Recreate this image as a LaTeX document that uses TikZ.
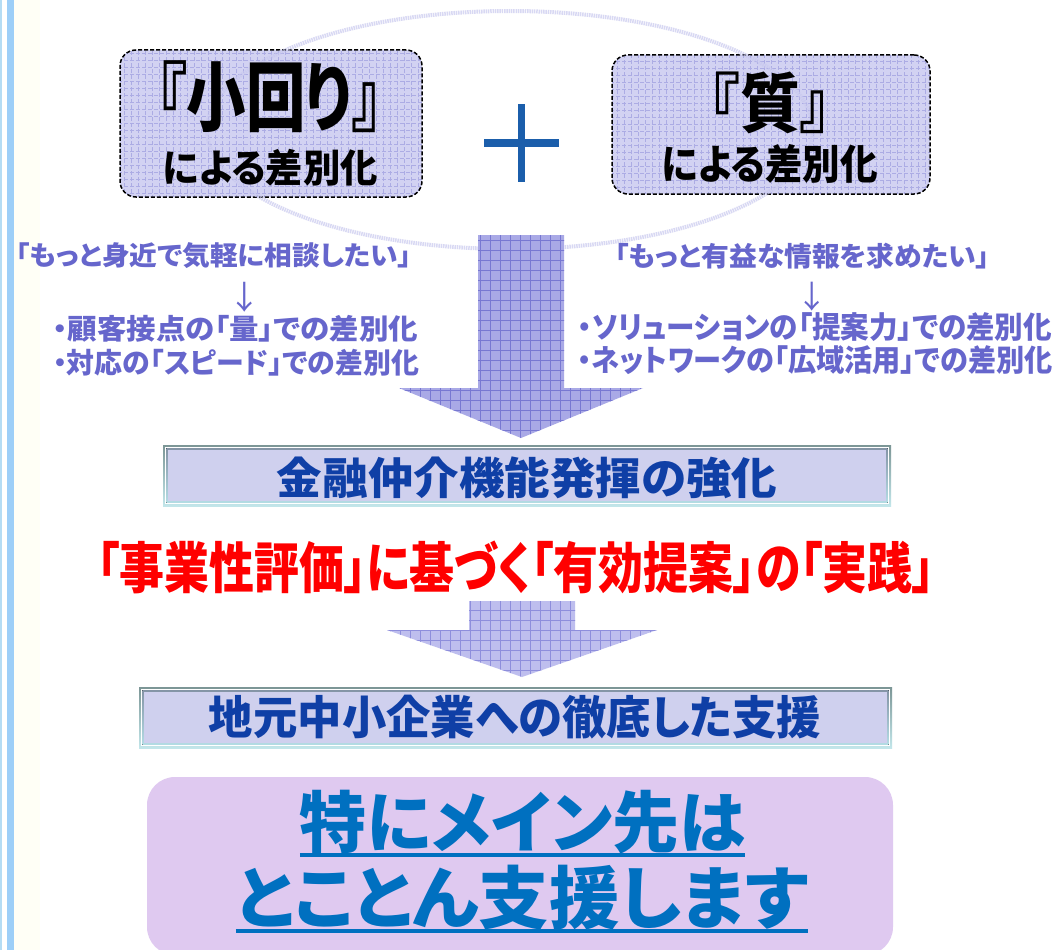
\documentclass[tikz,border=0pt]{standalone}
\usepackage{fontspec}
\usepackage{graphicx}
\newfontfamily\jp[RawFeature=+palt]{Noto Sans CJK JP}
\newfontfamily\jpk[RawFeature=+palt]{Noto Sans CJK JP Black}
\newfontfamily\jpn{Noto Sans CJK JP}
\newcommand\fitbox[3]{\resizebox*{#1pt}{#2pt}{#3}}
\definecolor{bandblue}{HTML}{9DCFF8}
\definecolor{bandlight}{HTML}{B4DCF4}
\definecolor{cream}{HTML}{FFFFF6}
\definecolor{boxlav}{HTML}{D2D2F2}
\definecolor{gridlav}{HTML}{ACACE4}
\definecolor{arrowA}{HTML}{A9A9E6}
\definecolor{arrowAg}{HTML}{7878D2}
\definecolor{arrowB}{HTML}{BEBEEE}
\definecolor{arrowBg}{HTML}{8E8EDC}
\definecolor{ringcol}{HTML}{C8C8EE}
\definecolor{pluscol}{HTML}{1B5EAB}
\definecolor{lavtext}{HTML}{6666CC}
\definecolor{navytext}{HTML}{0F3FA6}
\definecolor{framA}{HTML}{7C9696}
\definecolor{framB}{HTML}{C2E6EA}
\definecolor{framC}{HTML}{8494A6}
\definecolor{framD}{HTML}{B4DCE4}
\definecolor{fillC}{HTML}{CFD0EE}
\definecolor{purpbox}{HTML}{DFC9F0}
\definecolor{bluetext}{HTML}{0070C0}
\begin{document}
\begin{tikzpicture}[x=1pt,y=-1pt,
  txt/.style={inner sep=0pt, outer sep=0pt},
  gridfill/.style n args={3}{fill=#1, path picture={\draw[#2, line width=0.6pt] ([shift={(-20pt,-20pt)}]path picture bounding box.south west) grid[step=#3] ([shift={(20pt,20pt)}]path picture bounding box.north east);}},
  dashbox/.style={draw=black, line width=1.5pt, dash pattern=on 4pt off 2pt, rounded corners=16pt, inner sep=0pt, gridfill={boxlav}{gridlav}{7pt}},
  framebox/.style={inner sep=0pt, top color=framA, bottom color=framB},
  ring/.style={draw=ringcol, line width=4pt, opacity=0.7, dash pattern=on 1.5pt off 0.8pt},
  plusbar/.style={draw=pluscol, line width=7.5pt},
  uline/.style={draw=bluetext, line width=4pt}
]
\useasboundingbox (0,0) rectangle (1058,950);
\fill[white] (0,0) rectangle (1058,950);
% left band
\fill[cream] (14,0) rectangle (40,950);
\fill[bandlight] (0,0) rectangle (1.6,950);
\fill[bandblue] (7.4,0) rectangle (13.6,950);

% top boxes
\node[dashbox, minimum width=302pt, minimum height=147pt] (box1) at (271,123.5) {};
\node[dashbox, minimum width=318pt, minimum height=139pt] (box2) at (771,124.5) {};

% ring
\draw[ring] (510,130) ellipse [x radius=303pt, y radius=119pt];

% plus
\coordinate (pt) at (521.5,104);
\coordinate (pb) at (521.5,182);
\coordinate (pl) at (484,143);
\coordinate (pr) at (559,143);
\draw[plusbar] (pt) -- (pb);
\draw[plusbar] (pl) -- (pr);

% box texts
\node[txt, text=black] (t1a) at (269.5,96.5) {\fitbox{225}{72}{\jpk 『小回り』}};
\node[txt, text=black] (t1b) at (270.5,167.5) {\fitbox{215}{37}{\jpk による差別化}};
\node[txt, text=black] (t2a) at (770,103) {\fitbox{120}{62}{\jpk 『質』}};
\node[txt, text=black] (t2b) at (770,164) {\fitbox{216}{39}{\jpk による差別化}};

% big arrow 1
\path[gridfill={arrowA}{arrowAg}{10pt}] (478,235) -- (564,235) -- (564,388) -- (643,388) -- (521,438) -- (399,388) -- (478,388) -- cycle;

% lavender texts left
\node[txt, text=lavtext] (l1) at (214,256) {\fitbox{396}{26}{\jp\bfseries 「もっと身近で気軽に相談したい」}};
\node[txt, text=lavtext] (la) at (245,297) {\resizebox*{!}{30pt}{\jpn ↓}};
\node[txt, text=lavtext] (l2) at (235.5,328.5) {\fitbox{365}{27}{\jp\bfseries ・顧客接点の「量」での差別化}};
\node[txt, text=lavtext] (l3) at (236,363) {\fitbox{366}{27}{\jp\bfseries ・対応の「スピード」での差別化}};
% lavender texts right
\node[txt, text=lavtext] (r1) at (802.5,256.5) {\fitbox{375}{26}{\jp\bfseries 「もっと有益な情報を求めたい」}};
\node[txt, text=lavtext] (ra) at (812,296.5) {\resizebox*{!}{29pt}{\jpn ↓}};
\node[txt, text=lavtext] (r2) at (815,327.5) {\fitbox{474}{29}{\jp\bfseries ・ソリューションの「提案力」での差別化}};
\node[txt, text=lavtext] (r3) at (815.5,360.5) {\fitbox{475}{29}{\jp\bfseries ・ネットワークの「広域活用」での差別化}};

% box 3
\node[framebox, minimum width=728pt, minimum height=61pt] (box3) at (527,475.5) {};
\fill[white] ([shift={(2pt,2pt)}]box3.south west) rectangle ([shift={(-2pt,-2pt)}]box3.north east);
\fill[top color=framC, bottom color=framD] ([shift={(3.5pt,3.5pt)}]box3.south west) rectangle ([shift={(-3.5pt,-3.5pt)}]box3.north east);
\fill[fillC] ([shift={(5.5pt,5.5pt)}]box3.south west) rectangle ([shift={(-5.5pt,-5.5pt)}]box3.north east);
\node[txt, text=navytext] (t3) at (527,477.5) {\fitbox{500}{42}{\jpk 金融仲介機能発揮の強化}};

% red text
\node[txt, text=red] (t4) at (516,567.5) {\fitbox{838}{53}{\jpk 「事業性評価」に基づく「有効提案」の「実践」}};

% arrow 2
\path[gridfill={arrowB}{arrowBg}{10pt}] (469,601) -- (575,601) -- (575,630) -- (657,630) -- (522,677) -- (387,630) -- (469,630) -- cycle;

% box 4
\node[framebox, minimum width=753pt, minimum height=61pt] (box4) at (515.5,717.5) {};
\fill[white] ([shift={(2pt,2pt)}]box4.south west) rectangle ([shift={(-2pt,-2pt)}]box4.north east);
\fill[top color=framC, bottom color=framD] ([shift={(3.5pt,3.5pt)}]box4.south west) rectangle ([shift={(-3.5pt,-3.5pt)}]box4.north east);
\fill[fillC] ([shift={(5.5pt,5.5pt)}]box4.south west) rectangle ([shift={(-5.5pt,-5.5pt)}]box4.north east);
\node[txt, text=navytext] (t5) at (515,717.5) {\fitbox{612}{44}{\jpk 地元中小企業への徹底した支援}};

% box 5
\node[fill=purpbox, rounded corners=28pt, minimum width=746pt, minimum height=178pt, inner sep=0pt] (box5) at (520,866) {};
\node[txt, text=bluetext] (b5a) at (522.5,822.5) {\fitbox{445}{64}{\jp\bfseries 特にメイン先は}};
\node[txt, text=bluetext] (b5b) at (522,898) {\fitbox{572}{65}{\jp\bfseries とことん支援します}};
\draw[uline] ([yshift=-32.5pt]b5a.west) -- ([yshift=-32.5pt]b5a.east);
\draw[uline] ([yshift=-33pt]b5b.west) -- ([yshift=-33pt]b5b.east);
\end{tikzpicture}
\end{document}
